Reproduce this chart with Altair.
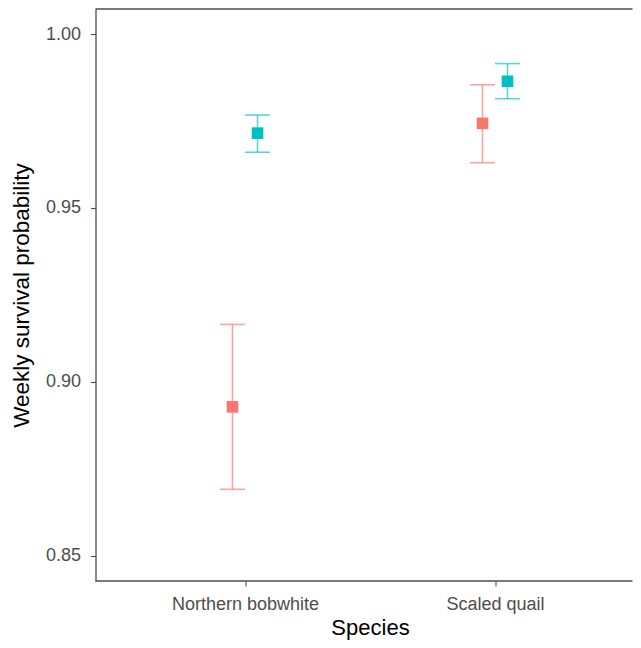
import altair as alt
import pandas as pd

# ---- data ----
species = ["Northern bobwhite", "Northern bobwhite", "Scaled quail", "Scaled quail"]
group = ["Group 1", "Group 2", "Group 1", "Group 2"]
estimate = [0.8928, 0.9715, 0.9743, 0.9864]
lower = [0.8691, 0.9660, 0.9630, 0.9814]
upper = [0.9165, 0.9767, 0.9854, 0.9915]
y_ticks = [0.85, 0.90, 0.95, 1.00]
groups = ["Group 1", "Group 2"]
group_colors = ["#F8766D", "#00BFC4"]

df = pd.DataFrame(dict(species=species, group=group, estimate=estimate,
                       lower=lower, upper=upper))

W, H = 537, 572
FONT = "Liberation Sans"
FRAME = "#4D4D4D"

x_enc = alt.X("species:N",
              scale=alt.Scale(type="point", range=[149.5, 399.5], padding=0),
              axis=alt.Axis(title="Species", labelAngle=0, tickSize=5, domain=False,
                            labelPadding=9, titlePadding=4, titleFontSize=22))
xoff_enc = alt.XOffset("group:N",
                       scale=alt.Scale(type="point", range=[-12.5, 12.5], padding=0))
color_enc = alt.Color("group:N", scale=alt.Scale(domain=groups, range=group_colors),
                      legend=None)

y_scale = alt.Scale(domain=[0.84273, 1.00719], nice=False, zero=False)
y_axis = alt.Axis(values=y_ticks, format=".2f", title="Weekly survival probability",
                  tickSize=5, labelPadding=10, titlePadding=12, grid=False,
                  titleFontSize=22.5)


def y_of(field):
    return alt.Y(field, type="quantitative", scale=y_scale, axis=y_axis)


base = alt.Chart(df).encode(x=x_enc, xOffset=xoff_enc, color=color_enc)

bars = base.mark_rule(strokeWidth=1.6, opacity=0.65).encode(y=y_of("lower"), y2="upper:Q")
cap_lo = base.mark_tick(size=25, thickness=1.6, opacity=0.65).encode(y=y_of("lower"))
cap_hi = base.mark_tick(size=25, thickness=1.6, opacity=0.65).encode(y=y_of("upper"))
pts = base.mark_point(shape="square", filled=True, size=135, opacity=1).encode(y=y_of("estimate"))

frame_src = alt.Data(values=[{"a": 1}])
top_line = alt.Chart(frame_src).mark_rule(color=FRAME, strokeWidth=1.3).encode(
    y=alt.value(0), x=alt.value(0), x2=alt.value(W))
bottom_line = alt.Chart(frame_src).mark_rule(color=FRAME, strokeWidth=1.3).encode(
    y=alt.value(H), x=alt.value(0), x2=alt.value(W))

chart = alt.layer(bars, cap_lo, cap_hi, pts, top_line, bottom_line).properties(
    width=W, height=H,
    autosize="none",
    padding={"left": 87.5, "top": 1, "right": 0, "bottom": 60},
).configure_view(stroke=None).configure_axis(
    labelFont=FONT, titleFont=FONT, labelFontSize=18,
    labelColor="#4D4D4D", titleColor="#000000", titleFontWeight="normal",
    domainColor=FRAME, domainWidth=1.3, tickColor=FRAME, tickWidth=1.1,
    grid=False,
)

chart.save("out.html", embed_options={"renderer": "svg", "actions": False})
